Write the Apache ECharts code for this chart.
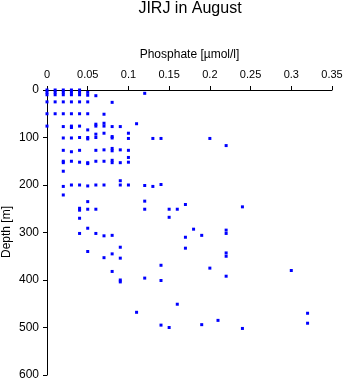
<!DOCTYPE html>
<html>
<head>
<meta charset="utf-8">
<script src="https://cdn.jsdelivr.net/npm/echarts@6/dist/echarts.min.js"></script>
<style>
html,body{margin:0;padding:0;background:#fff;}
#c{width:346px;height:384px;}
</style>
</head>
<body>
<div id="c"></div>
<script>
const titleText = 'JIRJ in August';
const xName = 'Phosphate [µmol/l]';
const yName = 'Depth [m]';
const xTicks = [0, 0.05, 0.1, 0.15, 0.2, 0.25, 0.3, 0.35];
const yTicks = [0, 100, 200, 300, 400, 500, 600];

// phosphate [µmol/l]
const phosphate = [
  0,0,0, 0.01,0.01,0.01, 0.02,0.02,0.02, 0.03,0.03,0.03, 0.04,0.04,0.04, 0.05,0.05, 0.06, 0.12,
  0,0.01,0.02,0.03,0.04,0.05,0.08,
  0,0.01,0.02,0.03,0.04,0.05,0.07,
  0,0.02,0.03,0.03,0.04,0.05,0.06,0.06,0.07,0.07,0.08,0.09,0.11,
  0.02,0.03,0.04,0.05,0.05,0.06,0.06,0.07,0.08,0.08,0.1,0.1,0.13,0.14,0.2,0.22,
  0.02,0.03,0.04,0.06,0.07,0.08,0.08,0.09,0.1,0.1,
  0.02,0.02,0.03,0.04,0.05,0.05,0.06,0.07,0.08,0.08,0.09,0.1,
  0.02,0.09,
  0.02,0.03,0.04,0.05,0.06,0.07,0.09,0.1,0.12,0.13,0.14,
  0.02,
  0.05,0.12,0.04,0.04,0.05,0.06,0.12,0.15,0.16,0.17,0.24,
  0.04,0.15,
  0.05,0.18,0.22,0.22,0.04,0.06,0.07,0.08,0.19,0.17,
  0.09,0.17,0.05,0.08,0.22,0.22,0.07,0.09,
  0.14,0.2,0.3,0.08,0.22,0.12,0.09,0.09,0.14,
  0.16,0.11,0.32,0.21,0.32,0.19,0.14,0.15,0.24
];
// depth [m]
const depth = [
  0,5,10, 0,5,10, 0,5,10, 0,5,10, 0,5,10, 5,11, 12, 7,
  25,25,25,25,25,25,26,
  50,50,50,50,50,50,51,
  76,77,76,79,76,84,72,76,70,76,77,77,71,
  101,101,100,100,103,93,100,91,98,101,91,102,102,102,102,117,
  127,130,127,127,126,123,128,126,127,142,
  150,153,150,152,153,155,150,150,148,153,153,152,
  171,191,
  203,200,200,202,200,200,200,200,201,203,199,
  221,
  235,234,249,253,251,251,251,251,251,241,246,
  270,268,
  291,293,295,302,302,302,307,306,306,310,
  331,333,340,345,343,350,353,354,
  369,375,380,382,392,396,400,404,401,
  451,468,470,485,491,494,495,500,502
];

const points = phosphate.map((p, i) => [p, depth[i]]);

const chart = echarts.init(document.getElementById('c'), null, {renderer: 'canvas'});
const font = 'Liberation Sans, Arial, Helvetica, sans-serif';
chart.setOption({
  animation: false,
  backgroundColor: '#fff',
  title: {
    text: titleText,
    left: 190,
    textAlign: 'center',
    top: 1,
    padding: 0,
    textStyle: {fontFamily: font, fontSize: 16, fontWeight: 'normal', color: '#000'}
  },
  graphic: [{
    type: 'text',
    x: 7,
    y: 232,
    rotation: Math.PI / 2,
    style: {
      text: yName,
      fontFamily: font,
      fontSize: 12,
      fill: '#000',
      align: 'center',
      verticalAlign: 'middle'
    }
  }],
  grid: {left: 47, right: 14, top: 90, bottom: 9, containLabel: false, outerBoundsMode: 'none'},
  xAxis: {
    type: 'value',
    position: 'top',
    min: xTicks[0],
    max: xTicks[xTicks.length - 1],
    interval: 0.05,
    name: xName,
    nameLocation: 'middle',
    nameGap: 29,
    nameTextStyle: {fontFamily: font, fontSize: 12, color: '#000'},
    axisLine: {show: true, lineStyle: {color: '#000', width: 1}},
    axisTick: {show: true, length: 4, lineStyle: {color: '#000'}},
    axisLabel: {margin: 10, fontFamily: font, fontSize: 11, color: '#000',
      formatter: v => String(+v.toFixed(2))},
    splitLine: {show: false}
  },
  yAxis: {
    type: 'value',
    inverse: true,
    min: yTicks[0],
    max: yTicks[yTicks.length - 1],
    interval: 100,
    axisLine: {show: true, onZero: false, lineStyle: {color: '#000', width: 1}},
    axisTick: {show: true, length: 4, lineStyle: {color: '#000'}},
    axisLabel: {margin: 8, fontFamily: font, fontSize: 12, color: '#000'},
    splitLine: {show: false}
  },
  series: [{
    type: 'scatter',
    data: points,
    symbol: 'rect',
    symbolSize: 3,
    itemStyle: {color: '#0000ff', opacity: 1}
  }]
});
</script>
</body>
</html>
